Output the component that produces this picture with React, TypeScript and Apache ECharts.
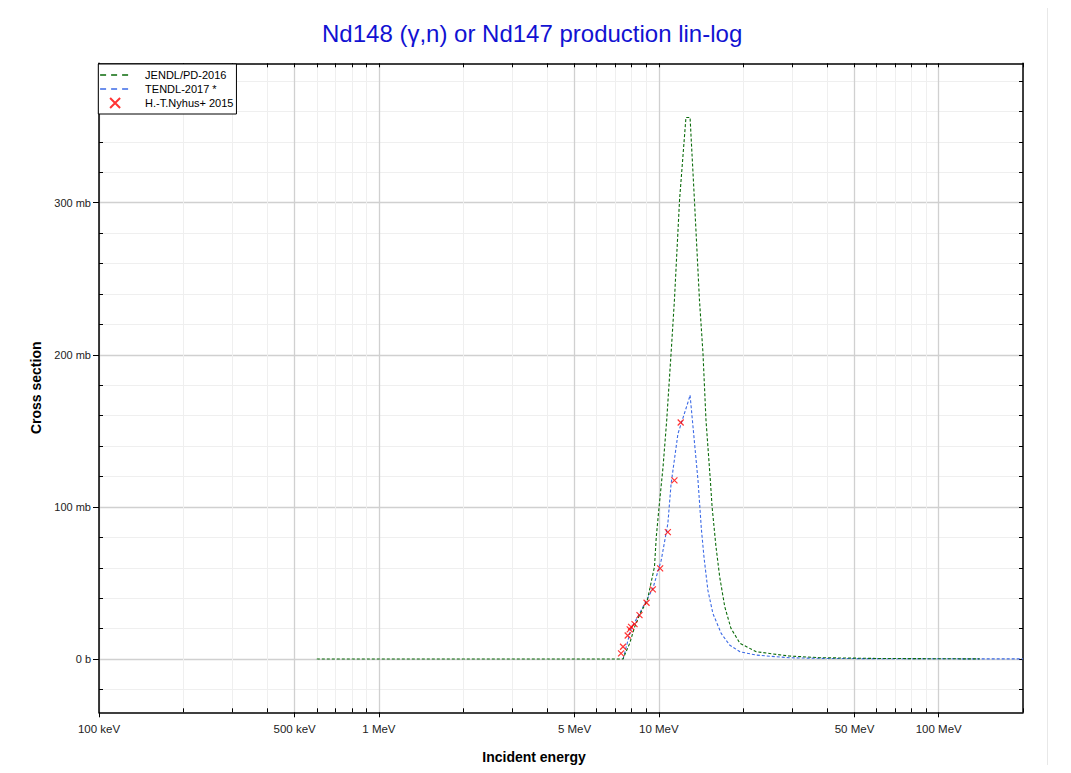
import React, { useEffect, useRef } from 'react';
import * as echarts from 'echarts';

// JENDL/PD-2016 evaluated cross section (energy in MeV, cross section in mb)
const jendlEnergy = [0.6, 7.45, 7.6, 7.87, 8.19, 8.53, 9.1, 9.65, 9.79, 10.02, 10.35, 10.67, 11.06, 11.37, 11.86, 12.5, 12.93, 13.4, 13.97, 14.38, 14.74, 15.27, 15.5, 16.0, 16.5, 17.2, 18.1, 19.5, 22.3, 29.2, 37.6, 60, 100, 140];
const jendlXs = [0, 0, 4, 10.3, 21, 28.9, 38.8, 60.7, 80, 100, 126, 157, 201, 236, 302, 356, 356, 302, 236, 201, 157, 118, 100, 74, 54, 34.4, 20.2, 10.3, 4.8, 2, 0.9, 0.4, 0.2, 0.1];

// TENDL-2017 evaluated cross section
const tendlEnergy = [7.45, 7.7, 7.96, 8.53, 9.52, 10.2, 10.77, 11.06, 11.7, 12.77, 12.93, 13.8, 14.2, 14.5, 14.97, 15.6, 16.7, 17.9, 19.5, 22.3, 29.2, 40, 70, 200];
const tendlXs = [0, 10, 20, 30, 46.4, 65, 89, 115, 148, 170, 173.5, 117.6, 84.8, 67, 45.3, 30, 16.9, 9.2, 4.8, 2.6, 0.85, 0.4, 0.2, 0.1];

// H.-T.Nyhus+ 2015 measurements
const nyhusEnergy = [7.33, 7.45, 7.74, 7.87, 7.96, 8.19, 8.53, 9.04, 9.52, 10.11, 10.77, 11.37, 11.97];
const nyhusXs = [3.7, 8.1, 15.5, 19.5, 21.2, 23, 28.9, 37, 45.8, 59.6, 83.4, 117.4, 155.5];

const seriesNames = ['JENDL/PD-2016', 'TENDL-2017 *', 'H.-T.Nyhus+ 2015'];

// axis ticks
const xMajorTicks = [0.1, 0.5, 1, 5, 10, 50, 100];
const xMinorTicks = [0.2, 0.3, 0.4, 0.6, 0.7, 0.8, 0.9, 2, 3, 4, 6, 7, 8, 9, 20, 30, 40, 60, 70, 80, 90, 200];
const xAllTicks = [0.1, 0.2, 0.3, 0.4, 0.5, 0.6, 0.7, 0.8, 0.9, 1, 2, 3, 4, 5, 6, 7, 8, 9, 10, 20, 30, 40, 50, 60, 70, 80, 90, 100, 200];
const yMajorTicks = [0, 100, 200, 300];
const yMinorTicks = [-20, 20, 40, 60, 80, 120, 140, 160, 180, 220, 240, 260, 280, 320, 340, 360, 380];
const yAllTicks = [-20, 0, 20, 40, 60, 80, 100, 120, 140, 160, 180, 200, 220, 240, 260, 280, 300, 320, 340, 360, 380];

const X_MIN = 0.1;
const X_MAX = 200;
const Y_MIN = -35;
const Y_MAX = 391.6;

const FONT = '"Liberation Sans", Arial, Helvetica, sans-serif';

const xLabel = (v: number) => (v < 1 ? `${Math.round(v * 1000)} keV` : `${v} MeV`);
const yLabel = (v: number) => (v === 0 ? '0 b' : `${v} mb`);

export default function App() {
  const ref = useRef<HTMLDivElement>(null);

  useEffect(() => {
    if (!ref.current) return;
    const chart = echarts.init(ref.current, null, { renderer: 'svg' });

    const baseX = {
      type: 'log' as const,
      logBase: 10,
      min: X_MIN,
      max: X_MAX,
      minorTick: { show: false },
      minorSplitLine: { show: false },
    };
    const baseY = {
      type: 'value' as const,
      min: Y_MIN,
      max: Y_MAX,
      minorTick: { show: false },
      minorSplitLine: { show: false },
    };

    const lineLegend = (name: string) => ({
      name,
      itemStyle: { opacity: 0 },
      lineStyle: { type: [6, 5], width: 1.6 },
    });

    chart.setOption({
      animation: false,
      backgroundColor: '#ffffff',
      textStyle: { fontFamily: FONT },
      title: {
        text: 'Nd148 (γ,n) or Nd147 production lin-log',
        left: 314,
        top: 13,
        padding: 0,
        textStyle: { fontFamily: FONT, fontSize: 24, fontWeight: 'normal', color: '#1212d2' },
      },
      grid: { left: 91, top: 55.3, width: 924, height: 649, containLabel: false, outerBoundsMode: 'none' },
      legend: {
        data: [lineLegend(seriesNames[0]), lineLegend(seriesNames[1]), { name: seriesNames[2] }],
        orient: 'vertical',
        left: 90.3,
        top: 56,
        itemWidth: 30,
        itemHeight: 10,
        itemGap: 0,
        padding: [4, 3, 4, 1],
        borderColor: '#000',
        borderWidth: 1,
        backgroundColor: '#fff',
        textStyle: { fontFamily: FONT, fontSize: 11, color: '#000', lineHeight: 14, padding: [0, 0, 0, 10] },
      },
      xAxis: [
        {
          ...baseX,
          position: 'bottom',
          axisLine: { show: true, onZero: false, lineStyle: { color: '#000', width: 1.5 } },
          axisTick: { show: true, customValues: xMajorTicks, length: 5, inside: false, lineStyle: { color: '#000', width: 1 } },
          axisLabel: { show: true, customValues: xMajorTicks, formatter: xLabel, margin: 11, fontSize: 11.5, color: '#222', fontFamily: FONT },
          splitLine: { show: true, lineStyle: { color: '#d0d0d0', width: 1.3 } },
          name: 'Incident energy',
          nameLocation: 'middle',
          nameGap: 38,
          nameTextStyle: { fontFamily: FONT, fontSize: 14, fontWeight: 'bold', color: '#000', padding: [0, 54, 0, 0] },
        },
        {
          ...baseX,
          position: 'bottom',
          axisLine: { show: false, onZero: false },
          axisTick: { show: true, customValues: xMinorTicks, length: 4, inside: true, lineStyle: { color: '#000', width: 1 } },
          axisLabel: { show: false },
          splitLine: { show: true, lineStyle: { color: '#efefef', width: 1 } },
        },
        {
          ...baseX,
          position: 'top',
          axisLine: { show: true, onZero: false, lineStyle: { color: '#000', width: 1.5 } },
          axisTick: { show: true, customValues: xAllTicks, length: 4, inside: true, lineStyle: { color: '#000', width: 1 } },
          axisLabel: { show: false },
          splitLine: { show: false },
        },
      ],
      yAxis: [
        {
          ...baseY,
          position: 'left',
          axisLine: { show: true, onZero: false, lineStyle: { color: '#000', width: 1.5 } },
          axisTick: { show: true, customValues: yMajorTicks, length: 6, inside: false, lineStyle: { color: '#000', width: 1 } },
          axisLabel: { show: true, customValues: yMajorTicks, formatter: yLabel, margin: 8, fontSize: 11, color: '#222', fontFamily: FONT },
          splitLine: { show: true, lineStyle: { color: '#d0d0d0', width: 1.3 } },
          name: 'Cross section',
          nameLocation: 'middle',
          nameGap: 54,
          nameTextStyle: { fontFamily: FONT, fontSize: 14, fontWeight: 'bold', color: '#000' },
        },
        {
          ...baseY,
          position: 'left',
          axisLine: { show: false, onZero: false },
          axisTick: { show: true, customValues: yMinorTicks, length: 4, inside: true, lineStyle: { color: '#000', width: 1 } },
          axisLabel: { show: false },
          splitLine: { show: true, lineStyle: { color: '#efefef', width: 1 } },
        },
        {
          ...baseY,
          position: 'right',
          axisLine: { show: true, onZero: false, lineStyle: { color: '#000', width: 1.5 } },
          axisTick: { show: true, customValues: yAllTicks, length: 4, inside: true, lineStyle: { color: '#000', width: 1 } },
          axisLabel: { show: false },
          splitLine: { show: false },
        },
      ],
      series: [
        {
          name: seriesNames[0],
          type: 'line',
          xAxisIndex: 0,
          yAxisIndex: 0,
          data: jendlEnergy.map((e, i) => [e, jendlXs[i]]),
          showSymbol: false,
          symbol: 'none',
          lineStyle: { color: '#0b6b0b', width: 1.1, type: [3, 2] },
          itemStyle: { color: '#0b6b0b' },
          z: 3,
        },
        {
          name: seriesNames[1],
          type: 'line',
          xAxisIndex: 0,
          yAxisIndex: 0,
          data: tendlEnergy.map((e, i) => [e, tendlXs[i]]),
          showSymbol: false,
          symbol: 'none',
          lineStyle: { color: '#3d6be6', width: 1.1, type: [3, 2] },
          itemStyle: { color: '#3d6be6' },
          z: 2,
        },
        {
          name: seriesNames[2],
          type: 'scatter',
          xAxisIndex: 0,
          yAxisIndex: 0,
          data: nyhusEnergy.map((e, i) => [e, nyhusXs[i]]),
          symbol: 'path://M0,0L10,10M10,0L0,10',
          symbolSize: 6,
          itemStyle: { color: '#ff0000', borderColor: '#ff0000', borderWidth: 1.2 },
          z: 4,
        },
      ],
    });

    return () => {
      chart.dispose();
    };
  }, []);

  return (
    <div
      ref={ref}
      style={{ width: 1039, height: 757, borderRight: '1px solid #e8e8e8', boxSizing: 'content-box' }}
    />
  );
}
